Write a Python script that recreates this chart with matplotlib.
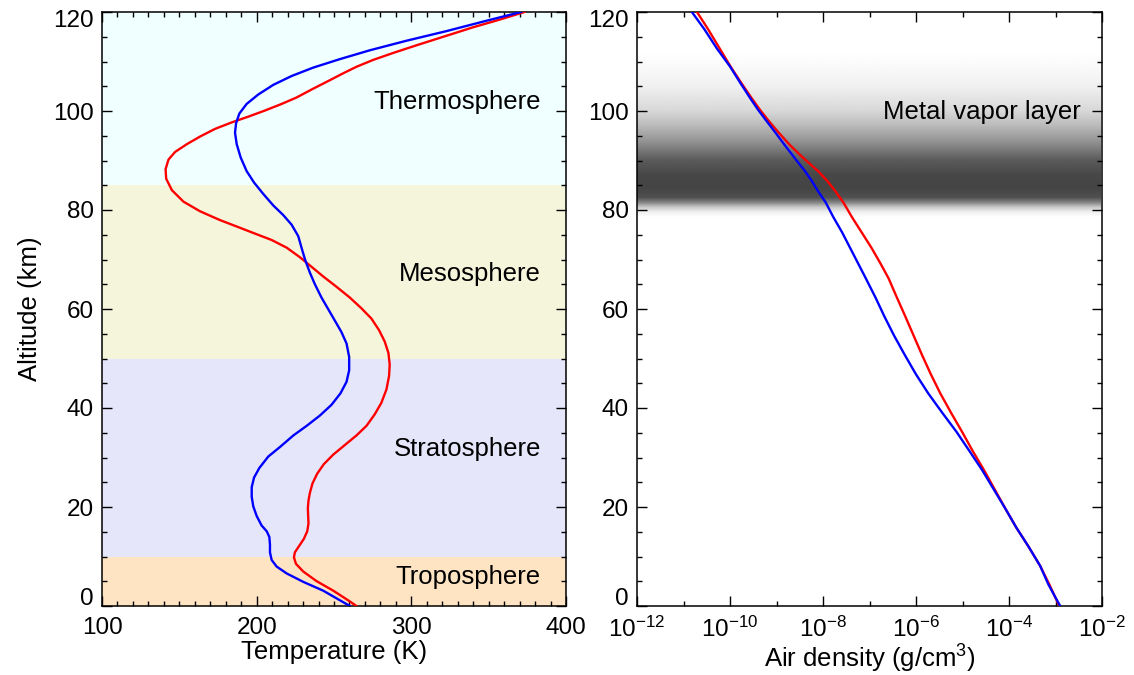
import numpy as np
import matplotlib
matplotlib.use("Agg")
import matplotlib.pyplot as plt
from matplotlib.ticker import MultipleLocator, FixedLocator, NullFormatter
from matplotlib.transforms import ScaledTranslation

plt.rcParams['font.family'] = ['Liberation Sans', 'DejaVu Sans']
plt.rcParams['mathtext.fontset'] = 'custom'
plt.rcParams['mathtext.rm'] = 'Liberation Sans'
plt.rcParams['mathtext.it'] = 'Liberation Sans:italic'
plt.rcParams['mathtext.bf'] = 'Liberation Sans:bold'

# ---------------- data ----------------
# Temperature profile 1 (red): altitude (km), temperature (K)
red_temp_alt = [0, 1.16, 3.10, 5.03, 6.97, 8.52, 9.83, 10.84, 12.15, 13.55, 15.10, 16.65, 18.19,
                19.74, 21.29, 22.84, 24.77, 26.71, 28.65, 30.58, 32.52, 34.45, 36.39, 38.71,
                41.03, 43.74, 46.45, 48.77, 51.10, 53.42, 55.74, 58.06, 60.15, 62.32, 64.49,
                66.58, 68.52, 70.45, 72.39, 73.94, 75.10, 76.41, 77.96, 79.74, 81.68, 84.0,
                86.32, 88.26, 90.19, 91.74, 93.29, 94.84, 96.39, 97.70, 98.86, 100.10, 101.42,
                102.73, 104.52, 106.22, 107.61, 108.93, 110.32, 111.72, 113.26, 114.97, 116.90,
                118.45, 120]
red_temp = [264.5, 259.1, 249.5, 238.7, 230.1, 225.4, 224.1, 224.7, 227.5, 230.5, 232.7, 233.5,
            233.3, 233.1, 233.5, 234.4, 236.1, 239.1, 243.4, 249.5, 257.0, 264.5, 271.0, 276.3,
            280.6, 283.9, 285.6, 286.0, 285.2, 282.8, 279.1, 274.2, 267.7, 260.2, 251.6, 243.0,
            235.5, 228.0, 219.4, 209.7, 200.0, 189.2, 176.3, 163.4, 152.7, 145.2, 141.5, 141.1,
            143.0, 147.3, 154.8, 163.4, 173.1, 183.9, 194.6, 205.4, 216.1, 225.8, 236.6, 247.3,
            255.9, 264.5, 275.3, 288.2, 303.2, 320.4, 339.8, 357.0, 373.1]

# Temperature profile 2 (blue)
blue_temp_alt = [0, 1.16, 3.10, 4.88, 6.58, 7.97, 9.29, 10.84, 12.39, 13.94, 15.10, 16.26, 18.19,
                 20.13, 22.06, 24.0, 25.94, 27.87, 30.19, 32.13, 34.45, 36.39, 38.48, 40.65,
                 42.97, 45.29, 47.61, 50.32, 53.03, 55.35, 57.68, 60.0, 62.32, 65.03, 67.35,
                 70.06, 72.39, 74.71, 77.03, 78.97, 80.90, 83.23, 85.55, 87.87, 90.58, 93.29,
                 95.61, 97.55, 99.48, 101.42, 103.35, 105.29, 107.07, 108.77, 110.48, 112.26,
                 114.19, 116.13, 118.22, 120]
blue_temp = [260.2, 253.8, 243.0, 230.1, 219.4, 212.9, 209.7, 208.6, 208.6, 208.2, 206.5, 203.2,
             200.0, 197.8, 196.8, 196.8, 198.3, 201.7, 207.5, 215.1, 223.7, 232.3, 240.9, 248.4,
             254.2, 258.1, 259.8, 259.8, 258.1, 254.8, 250.5, 246.2, 241.9, 237.6, 234.4, 231.2,
             229.0, 226.9, 222.6, 217.2, 210.8, 204.3, 198.3, 193.5, 189.7, 187.1, 186.0, 186.7,
             188.8, 193.5, 201.1, 210.8, 222.6, 236.6, 253.8, 273.1, 296.8, 322.6, 348.4, 371.0]

# Air density profiles: altitude (km), log10(density in g/cm^3)
dens_alt = [120, 116.5, 112.6, 109, 105.7, 102.8, 100.3, 97.8, 95.6, 93.2, 91, 89.3, 87.9, 86,
            84, 81.5, 78.6, 75.5, 72.4, 69.3, 66.2, 62.3, 58.5, 54.6, 50.7, 46.8, 43, 39.1,
            35.2, 31.3, 27.5, 23.6, 19.7, 15.8, 12, 8.1, 4.3, 0]
red_logdens = [-10.71, -10.47, -10.22, -9.99, -9.76, -9.55, -9.36, -9.15, -8.95, -8.72, -8.48,
               -8.28, -8.11, -7.92, -7.75, -7.56, -7.38, -7.17, -6.96, -6.77, -6.59, -6.41,
               -6.23, -6.05, -5.87, -5.68, -5.48, -5.25, -5.01, -4.78, -4.54, -4.31, -4.08,
               -3.84, -3.58, -3.33, -3.13, -2.92]
blue_logdens = [-10.82, -10.55, -10.28, -10.0, -9.78, -9.58, -9.40, -9.20, -9.02, -8.83, -8.65,
                -8.51, -8.39, -8.25, -8.12, -7.94, -7.78, -7.59, -7.42, -7.25, -7.08, -6.87,
                -6.68, -6.47, -6.24, -6.0, -5.74, -5.44, -5.13, -4.85, -4.58, -4.33, -4.08,
                -3.84, -3.58, -3.33, -3.15, -2.90]

# Atmospheric layers
layer_names = ["Troposphere", "Stratosphere", "Mesosphere", "Thermosphere"]
layer_bottom = [0, 10, 50, 85]
layer_top = [10, 50, 85, 120]
layer_colors = ["bisque", "lavender", "beige", "azure"]
layer_label_alt = [5.9, 31.7, 67.1, 101.8]

# Metal vapor layer darkness profile (0 = white, 1 = darkest gray)
metal_alt = [70, 78.5, 79.5, 80.5, 81.5, 82.5, 84.5, 87, 90, 92, 94, 97, 100, 105, 109, 112, 120]
metal_dark = [0, 0, 0.08, 0.29, 0.67, 0.94, 1.0, 0.98, 0.88, 0.72, 0.56, 0.37, 0.21, 0.08,
              0.03, 0, 0]

temp_ticks = [100, 200, 300, 400]
alt_ticks = [0, 20, 40, 60, 80, 100, 120]
dens_ticks = [1e-12, 1e-10, 1e-8, 1e-6, 1e-4, 1e-2]
dens_ticklabels = [r"$10^{-12}$", r"$10^{-10}$", r"$10^{-8}$", r"$10^{-6}$", r"$10^{-4}$", r"$10^{-2}$"]

FS = 18.5      # annotation / axis-label size
TFS = 17.5     # tick label size

fig = plt.figure(figsize=(11.34, 6.75), dpi=100)
W, H = 1134, 675
ax1 = fig.add_axes([102 / W, 1 - 606 / H, 464 / W, 594 / H])
ax2 = fig.add_axes([637 / W, 1 - 606 / H, 465 / W, 594 / H])


def style(ax):
    ax.tick_params(which='both', direction='in', top=True, right=True, labelsize=TFS, width=1.0)
    ax.tick_params(which='major', length=7.5)
    ax.tick_params(which='minor', length=3.8)
    ax.tick_params(axis='x', pad=8)
    ax.tick_params(axis='y', pad=6)
    for s in ax.spines.values():
        s.set_linewidth(1.1)
    ax.set_ylim(0, 120)
    ax.yaxis.set_major_locator(FixedLocator(alt_ticks))
    ax.yaxis.set_minor_locator(MultipleLocator(5))


# ---- left panel ----
for b, t, c in zip(layer_bottom, layer_top, layer_colors):
    ax1.axhspan(b, t, color=c, lw=0, zorder=0)
for name, a in zip(layer_names, layer_label_alt):
    ax1.text(0.946, a, name, transform=ax1.get_yaxis_transform(), ha='right', va='center',
             fontsize=FS, zorder=3)
ax1.plot(red_temp, red_temp_alt, color='red', lw=1.7, zorder=4, solid_joinstyle='round')
ax1.plot(blue_temp, blue_temp_alt, color='blue', lw=1.7, zorder=5, solid_joinstyle='round')
ax1.set_xlim(100, 400)
style(ax1)
ax1.xaxis.set_major_locator(FixedLocator(temp_ticks))
ax1.xaxis.set_minor_locator(MultipleLocator(10))
ax1.set_xlabel("Temperature (K)", fontsize=FS, labelpad=1)
ax1.set_ylabel("Altitude (km)", fontsize=FS, labelpad=8)

# ---- right panel ----
alt_grid = np.linspace(0, 120, 1201)
dark = np.interp(alt_grid, metal_alt, metal_dark)
gray = 1 - dark * (1 - 68 / 255)
img = np.repeat(gray[:, None], 2, axis=1)
ax2.set_xscale('log')
ax2.set_xlim(1e-12, 1e-2)
ax2.imshow(img, cmap='gray', vmin=0, vmax=1, aspect='auto', origin='lower',
           extent=[0, 1, 0, 120], transform=ax2.get_yaxis_transform(), zorder=0,
           interpolation='bilinear')
ax2.text(0.955, 99.8, "Metal vapor layer", transform=ax2.get_yaxis_transform(), ha='right',
         va='center', fontsize=FS, zorder=3)
ax2.plot(10 ** np.array(red_logdens), dens_alt, color='red', lw=1.7, zorder=4,
         solid_joinstyle='round')
ax2.plot(10 ** np.array(blue_logdens), dens_alt, color='blue', lw=1.7, zorder=5,
         solid_joinstyle='round')
style(ax2)
ax2.xaxis.set_major_locator(FixedLocator(dens_ticks))
ax2.xaxis.set_minor_locator(FixedLocator([1e-11, 1e-9, 1e-7, 1e-5, 1e-3]))
ax2.xaxis.set_minor_formatter(NullFormatter())
ax2.set_xticklabels(dens_ticklabels)
ax2.set_xlabel("Air density (g/cm$^3$)", fontsize=FS, labelpad=0)
ax2.set_xlim(1e-12, 1e-2)

# shift end tick labels inward (like the reference)
for ax in (ax1, ax2):
    ax.set_yticks(alt_ticks)
    ax.set_yticklabels([str(v) for v in alt_ticks])
    labs = ax.get_yticklabels()
    labs[0].set_transform(labs[0].get_transform() + ScaledTranslation(0, 7 / 72, fig.dpi_scale_trans))
    labs[-1].set_transform(labs[-1].get_transform() + ScaledTranslation(0, -5 / 72, fig.dpi_scale_trans))

fig.savefig("out.png", dpi=100)
